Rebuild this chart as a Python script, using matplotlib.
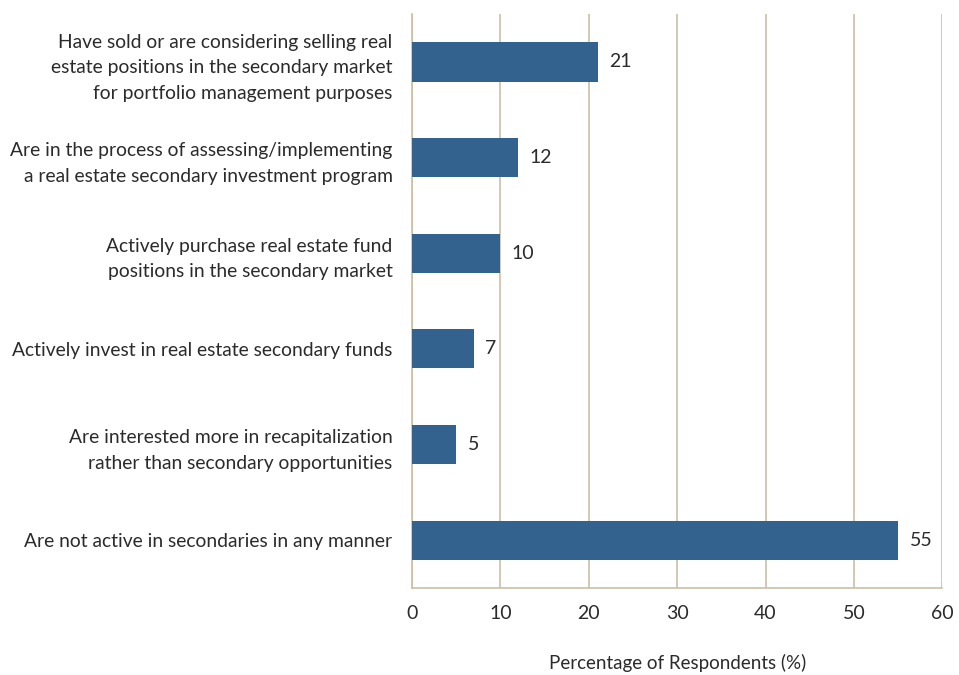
import matplotlib.pyplot as plt

plt.rcParams['font.family'] = ['Lato', 'DejaVu Sans']

categories = [
    "Are not active in secondaries in any manner",
    "Are interested more in recapitalization\nrather than secondary opportunities",
    "Actively invest in real estate secondary funds",
    "Actively purchase real estate fund\npositions in the secondary market",
    "Are in the process of assessing/implementing\na real estate secondary investment program",
    "Have sold or are considering selling real\nestate positions in the secondary market\nfor portfolio management purposes",
]
values = [55, 5, 7, 10, 12, 21]
xticks = [0, 10, 20, 30, 40, 50, 60]

bar_color = '#33628f'
grid_color = '#cbbfa6'
text_color = '#2b2b2b'

fig = plt.figure(figsize=(9.59, 6.75), dpi=100)
ax = fig.add_axes([0.4296, 0.129, 0.553, 0.85])

ypos = range(len(categories))
ax.barh(ypos, values, height=0.41, color=bar_color, zorder=3)

# value labels just past the end of each bar
for y, v in zip(ypos, values):
    ax.text(v + 1.3, y, str(v), va='center', ha='left',
            fontsize=14, color=text_color)

ax.set_xlim(0, 60)
ax.set_ylim(-0.5, 5.5)
ax.set_xticks(xticks)
ax.set_yticks(list(ypos))
ax.set_yticklabels(categories, fontsize=13.9, color=text_color, linespacing=1.62)
ax.tick_params(axis='x', labelsize=14, colors=text_color, length=0, pad=12)
ax.tick_params(axis='y', length=0, pad=14)

ax.grid(axis='x', color=grid_color, linewidth=1.2, zorder=0)
for side in ['top', 'right']:
    ax.spines[side].set_visible(False)
for side in ['left', 'bottom']:
    ax.spines[side].set_color(grid_color)
    ax.spines[side].set_linewidth(1.2)

ax.set_xlabel("Percentage of Respondents (%)", fontsize=13.5,
              color=text_color, labelpad=23)

fig.savefig('out.png', dpi=100)
